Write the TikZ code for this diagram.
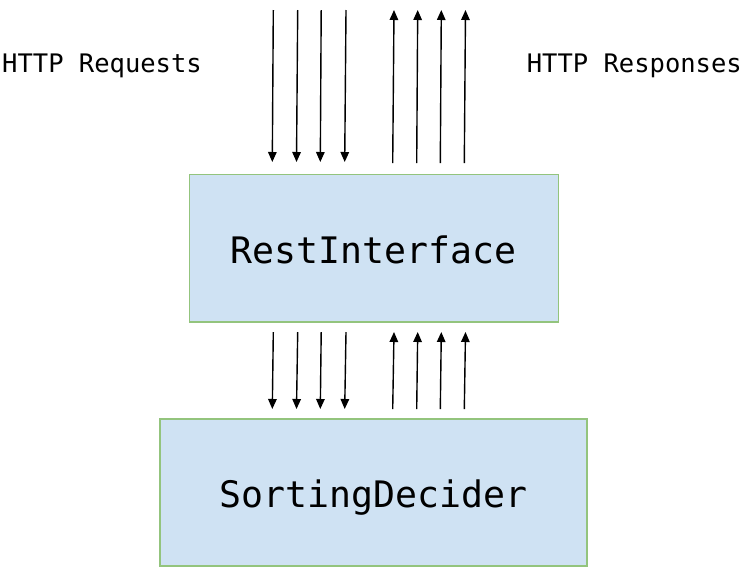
\documentclass[tikz,border=0pt]{standalone}
\usepackage{fontspec}
\setmonofont{DejaVu Sans Mono}
\usetikzlibrary{arrows.meta}
\definecolor{boxfill}{HTML}{CFE2F3}
\definecolor{boxline}{HTML}{93C47D}
\tikzset{
  block/.style={draw=boxline, fill=boxfill, line width=1.5pt, inner sep=0pt,
    text height=30pt, text depth=0pt,
    font=\ttfamily\fontsize{36.5}{40}\selectfont},
  arr/.style={line width=1.4pt, -{Triangle[length=10pt,width=8.5pt]}},
  label/.style={inner sep=0pt, font=\ttfamily\fontsize{25.5}{30}\selectfont}
}
\begin{document}
\begin{tikzpicture}[x=1pt,y=-1pt]
\useasboundingbox (0,0) rectangle (751,582);

\node[block, minimum width=369pt, minimum height=147.5pt] (rest) at (373.8,248) {RestInterface};
\node[block, minimum width=427pt, minimum height=147pt] (sorter) at (373.5,492.5) {SortingDecider};

\node[label, anchor=base west] (requests) at (2,72) {HTTP Requests};
\node[label, anchor=base east] (responses) at (742,72) {HTTP Responses};

% requests into RestInterface
\coordinate (q1a) at (273.3,10); \coordinate (q1b) at (272.3,162); \draw[arr] (q1a) -- (q1b);
\coordinate (q2a) at (297.7,10); \coordinate (q2b) at (296.5,162); \draw[arr] (q2a) -- (q2b);
\coordinate (q3a) at (321.2,10); \coordinate (q3b) at (320.3,162); \draw[arr] (q3a) -- (q3b);
\coordinate (q4a) at (346.0,10); \coordinate (q4b) at (344.7,162); \draw[arr] (q4a) -- (q4b);
% responses out of RestInterface
\coordinate (p1a) at (392.7,163); \coordinate (p1b) at (394.0,10); \draw[arr] (p1a) -- (p1b);
\coordinate (p2a) at (416.7,163); \coordinate (p2b) at (417.7,10); \draw[arr] (p2a) -- (p2b);
\coordinate (p3a) at (440.3,163); \coordinate (p3b) at (441.3,10); \draw[arr] (p3a) -- (p3b);
\coordinate (p4a) at (464.3,163); \coordinate (p4b) at (465.5,10); \draw[arr] (p4a) -- (p4b);

% RestInterface to SortingDecider
\coordinate (d1a) at (273.3,332); \coordinate (d1b) at (272.3,409); \draw[arr] (d1a) -- (d1b);
\coordinate (d2a) at (297.7,332); \coordinate (d2b) at (296.5,409); \draw[arr] (d2a) -- (d2b);
\coordinate (d3a) at (321.2,332); \coordinate (d3b) at (320.3,409); \draw[arr] (d3a) -- (d3b);
\coordinate (d4a) at (346.0,332); \coordinate (d4b) at (344.7,409); \draw[arr] (d4a) -- (d4b);
% SortingDecider back to RestInterface
\coordinate (u1a) at (392.7,409); \coordinate (u1b) at (394.0,332); \draw[arr] (u1a) -- (u1b);
\coordinate (u2a) at (416.7,409); \coordinate (u2b) at (417.7,332); \draw[arr] (u2a) -- (u2b);
\coordinate (u3a) at (440.3,409); \coordinate (u3b) at (441.3,332); \draw[arr] (u3a) -- (u3b);
\coordinate (u4a) at (464.3,409); \coordinate (u4b) at (465.5,332); \draw[arr] (u4a) -- (u4b);

\end{tikzpicture}
\end{document}
